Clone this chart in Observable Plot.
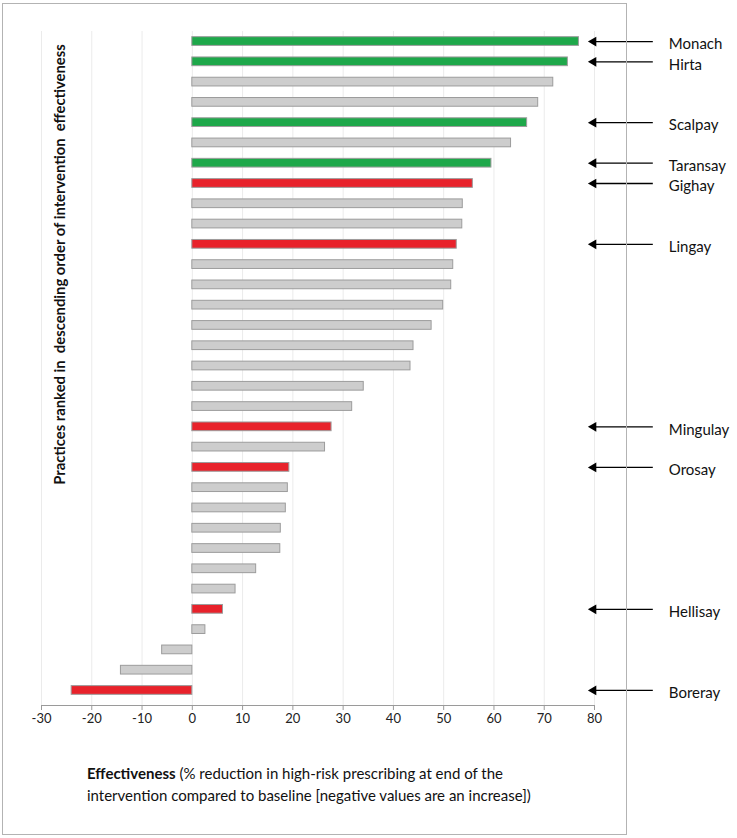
<!DOCTYPE html>
<html>
<head>
<meta charset="utf-8">
<script src="https://cdn.jsdelivr.net/npm/d3@7"></script>
<script src="https://cdn.jsdelivr.net/npm/@observablehq/plot@0.6"></script>
<style>
  html, body { margin: 0; padding: 0; background: #fff; }
  body { font-family: Lato, "Open Sans", sans-serif; }
  #wrap { position: relative; width: 737px; height: 838px; overflow: hidden; }
  #frame { position: absolute; left: 2px; top: 3px; width: 623px; height: 830px; border: 1.5px solid #b3b3b3; pointer-events: none; }
  #caption { position: absolute; left: 87px; top: 762px; font-size: 15px; line-height: 22px; color: #111; }
</style>
</head>
<body>
<div id="wrap">
  <div id="chart"></div>
  <div id="caption"><b>Effectiveness</b> (% reduction in high-risk prescribing at end of the<br>intervention compared to baseline [negative values are an increase])</div>
  <div id="frame"></div>
</div>
<script>
// Rank of each practice (1 = most effective)
const ranks = ["1","2","3","4","5","6","7","8","9","10","11","12","13","14","15","16","17","18","19","20","21","22","23","24","25","26","27","28","29","30","31","32","33"];
// Effectiveness (% reduction) per ranked practice
const effectiveness = [76.9, 74.7, 71.8, 68.8, 66.6, 63.4, 59.5, 55.8, 53.8, 53.7, 52.6, 51.9, 51.5, 49.9, 47.6, 44.0, 43.4, 34.1, 31.8, 27.7, 26.4, 19.3, 19.0, 18.6, 17.6, 17.5, 12.7, 8.6, 6.1, 2.6, -6.0, -14.2, -24.0];
// Highlight group per ranked practice
const groups = ["green","green","grey","grey","green","grey","green","red","grey","grey","red","grey","grey","grey","grey","grey","grey","grey","grey","red","grey","red","grey","grey","grey","grey","grey","grey","red","grey","grey","grey","red"];
// Named practices (blank = unnamed)
const names = ["Monach","Hirta","","","Scalpay","","Taransay","Gighay","","","Lingay","","","","","","","","","Mingulay","","Orosay","","","","","","","Hellisay","","","","Boreray"];
// X axis ticks
const xTicks = [-30, -20, -10, 0, 10, 20, 30, 40, 50, 60, 70, 80];

const yLabel = "Practices ranked in  descending order of intervention  effectiveness";

const rows = ranks.map((r, i) => ({rank: r, value: effectiveness[i], group: groups[i], name: names[i]}));
const labeled = rows.filter(d => d.name !== "");

const fillColor = {green: "#1ea84a", red: "#e8222b", grey: "#cdcdcd"};
const arrowTail = 91.6, arrowHead = 79.6;

const chart = Plot.plot({
  width: 737,
  height: 745,
  marginLeft: 41,
  marginRight: 143,
  marginTop: 31,
  marginBottom: 40,
  style: {fontFamily: "Lato, 'Open Sans', sans-serif", background: "transparent", overflow: "visible"},
  x: {domain: [-30, 80], label: null},
  y: {domain: ranks, paddingInner: 0.57, paddingOuter: 0.28, insetBottom: 5, round: false, axis: null},
  marks: [
    Plot.gridX(xTicks, {stroke: "#ebebeb", strokeOpacity: 1}),
    Plot.barX(rows, {x1: 0, x2: "value", y: "rank", fill: d => fillColor[d.group], stroke: "#9c9c9c", strokeWidth: 1}),
    Plot.frame({anchor: "bottom", stroke: "#9a9a9a"}),
    Plot.axisX(xTicks, {tickSize: 5, tickPadding: 3, stroke: "#9a9a9a", fill: "#222", fontSize: 13, tickFormat: d => String(d), label: null}),
    Plot.text([yLabel], {frameAnchor: "left", dx: 19, dy: -104, rotate: -90, textAnchor: "middle", fontWeight: "bold", fontSize: 14.8, fill: "#111"}),
    Plot.link(labeled, {x1: () => arrowTail, x2: () => arrowHead, y1: "rank", y2: "rank", stroke: "#000", strokeWidth: 1.3}),
    Plot.dot(labeled, {x: () => arrowHead, y: "rank", symbol: "triangle", rotate: -90, r: 3.6, fill: "#000", stroke: "none", dx: 1}),
    Plot.text(labeled, {x: () => arrowTail, y: "rank", text: "name", textAnchor: "start", dx: 16, dy: 3, fontSize: 15, fill: "#111"})
  ]
});
document.getElementById("chart").appendChild(chart);
</script>
</body>
</html>
